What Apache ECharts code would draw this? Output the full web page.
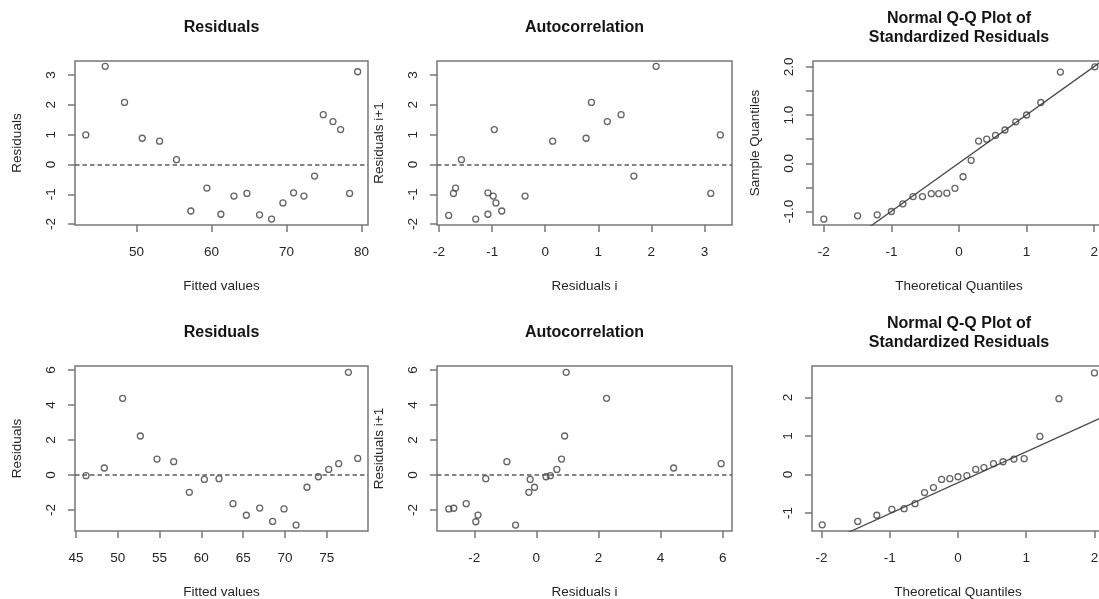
<!DOCTYPE html>
<html>
<head>
<meta charset="utf-8">
<script src="https://cdn.jsdelivr.net/npm/echarts@6/dist/echarts.min.js"></script>
<style>
html,body{margin:0;padding:0;background:#fff;}
#c{width:1099px;height:599px;}
</style>
</head>
<body>
<div id="c"></div>
<script>
// ---- Model 1 (top row) ----
const fitted1 = [43.24,45.82,48.4,50.76,53.07,55.33,57.24,59.38,61.24,62.98,64.71,66.4,68.0,69.51,70.93,72.31,73.73,74.89,76.18,77.2,78.4,79.47];
const resid1 = [0.99,3.29,2.08,0.88,0.78,0.16,-1.56,-0.79,-1.67,-1.06,-0.97,-1.69,-1.83,-1.29,-0.95,-1.06,-0.39,1.67,1.44,1.17,-0.97,3.11];
const acfX1 = [-1.82,-1.73,-1.69,-1.58,-1.31,-1.08,-1.08,-0.98,-0.96,-0.93,-0.82,-0.38,0.14,0.77,0.87,1.17,1.43,1.67,2.09,3.12,3.30];
const acfY1 = [-1.71,-0.97,-0.79,0.16,-1.83,-0.95,-1.67,-1.06,1.17,-1.29,-1.56,-1.06,0.78,0.88,2.08,1.44,1.67,-0.39,3.29,-0.97,0.99];
const qqX1 = [-2.0,-1.50,-1.21,-1.0,-0.83,-0.68,-0.54,-0.41,-0.30,-0.18,-0.06,0.06,0.18,0.29,0.41,0.54,0.68,0.84,1.0,1.21,1.50,2.01];
const qqY1 = [-1.16,-1.09,-1.07,-1.0,-0.84,-0.69,-0.69,-0.63,-0.63,-0.62,-0.52,-0.28,0.06,0.46,0.50,0.58,0.69,0.86,1.0,1.26,1.89,2.0];
const qqLine1 = [[-1.35,-1.345],[2.25,2.255]];

// ---- Model 2 (bottom row) ----
const fitted2 = [46.2,48.39,50.58,52.7,54.69,56.69,58.56,60.36,62.11,63.79,65.38,66.98,68.53,69.89,71.33,72.64,74.0,75.24,76.43,77.59,78.71];
const resid2 = [-0.04,0.40,4.38,2.23,0.91,0.76,-0.99,-0.25,-0.21,-1.64,-2.30,-1.89,-2.65,-1.94,-2.86,-0.70,-0.10,0.32,0.65,5.87,0.95];
const acfX2 = [-2.82,-2.66,-2.26,-1.95,-1.88,-1.63,-0.95,-0.67,-0.24,-0.20,-0.06,0.31,0.45,0.66,0.81,0.91,0.96,2.26,4.42,5.95];
const acfY2 = [-1.94,-1.90,-1.64,-2.67,-2.29,-0.21,0.76,-2.86,-0.99,-0.25,-0.70,-0.10,-0.04,0.32,0.91,2.23,5.87,4.38,0.40,0.65];
const qqX2 = [-1.99,-1.47,-1.19,-0.97,-0.79,-0.63,-0.49,-0.36,-0.24,-0.12,0.0,0.13,0.26,0.38,0.52,0.66,0.82,0.97,1.20,1.48,2.0];
const qqY2 = [-1.31,-1.22,-1.06,-0.91,-0.89,-0.76,-0.47,-0.34,-0.13,-0.11,-0.06,-0.03,0.13,0.18,0.28,0.33,0.40,0.41,0.99,1.97,2.64];
const qqLine2 = [[-1.7,-1.582],[2.25,1.594]];

// ---- Tick values / labels ----
const ticksX1 = [50,60,70,80];
const ticksY1 = [-2,-1,0,1,2,3];
const ticksX2 = [-2,-1,0,1,2,3];
const ticksX3 = [-2,-1,0,1,2];
const ticksY3 = [-1,-0.5,0,0.5,1,1.5,2];
const labelsY3 = [-1,0,1,2];
const ticksX4 = [45,50,55,60,65,70,75];
const ticksY4 = [-2,0,2,4,6];
const ticksX5 = [-2,0,2,4,6];
const ticksY6 = [-1,0,1,2];

const titles = ['Residuals','Autocorrelation','Normal Q-Q Plot of\nStandardized Residuals'];
const xNames = ['Fitted values','Residuals i','Theoretical Quantiles'];
const yNames = ['Residuals','Residuals i+1','Sample Quantiles'];

function zip(a,b){ return a.map((v,i)=>[v,b[i]]); }

const FONT = "'Liberation Sans', Arial, sans-serif";
const AX = '#777';
const TXT = '#262626';
const FS = 13.5;

const grids = [
  {left:75, top:61, width:293, height:164},
  {left:437, top:61, width:295, height:164},
  {left:813, top:61, width:292, height:164},
  {left:75, top:366, width:293, height:165},
  {left:437, top:366, width:295, height:165},
  {left:812, top:366, width:292, height:165}
].map(g => Object.assign(g, {show:true, borderColor:AX, borderWidth:1.5, backgroundColor:'transparent', containLabel:false, outerBoundsMode:'none'}));

function xAxis(i, min, max, ticks, name, labels, fmt){
  return {
    type:'value', gridIndex:i, min:min, max:max, scale:true, position:'bottom',
    name:name, nameLocation:'middle', nameGap:54,
    nameTextStyle:{fontFamily:FONT, fontSize:FS, color:TXT},
    axisLine:{show:false, onZero:false},
    splitLine:{show:false},
    axisTick:{show:true, inside:false, length:7, lineStyle:{color:AX, width:1.5}, customValues:ticks},
    axisLabel:{show:true, margin:20, fontFamily:FONT, fontSize:FS, color:TXT, customValues:labels||ticks,
      formatter: fmt || (v => String(v)), showMinLabel:true, showMaxLabel:true, hideOverlap:false}
  };
}
function yAxis(i, min, max, ticks, name, labels, fmt){
  return {
    type:'value', gridIndex:i, min:min, max:max, scale:true, position:'left',
    name:name, nameLocation:'middle', nameGap:51, nameRotate:90,
    nameTextStyle:{fontFamily:FONT, fontSize:FS, color:TXT},
    axisLine:{show:false, onZero:false},
    splitLine:{show:false},
    axisTick:{show:true, inside:false, length:7, lineStyle:{color:AX, width:1.5}, customValues:ticks},
    axisLabel:{show:true, rotate:90, margin:17, fontFamily:FONT, fontSize:FS, color:TXT, customValues:labels||ticks,
      formatter: fmt || (v => String(v)), showMinLabel:true, showMaxLabel:true, hideOverlap:false}
  };
}

const fmt1 = v => Number(v).toFixed(1);

const xAxes = [
  xAxis(0, 41.8, 80.85, ticksX1, xNames[0]),
  xAxis(1, -2.04, 3.52, ticksX2, xNames[1]),
  xAxis(2, -2.16, 2.16, ticksX3, xNames[2]),
  xAxis(3, 44.88, 79.94, ticksX4, xNames[0]),
  xAxis(4, -3.2, 6.3, ticksX5, xNames[1]),
  xAxis(5, -2.14, 2.14, ticksX3, xNames[2])
];
const yAxes = [
  yAxis(0, -2.03, 3.47, ticksY1, yNames[0]),
  yAxis(1, -2.03, 3.47, ticksY1, yNames[1]),
  yAxis(2, -1.28, 2.12, ticksY3, yNames[2], labelsY3, fmt1),
  yAxis(3, -3.2, 6.23, ticksY4, yNames[0]),
  yAxis(4, -3.2, 6.23, ticksY4, yNames[1]),
  yAxis(5, -1.47, 2.82, ticksY6, '')
];

const zeroLine = {
  silent:true, symbol:['none','none'], animation:false,
  label:{show:false},
  lineStyle:{type:[4.5,3], color:'#5c5c5c', width:1.6},
  data:[{yAxis:0}]
};

function scatter(i, data, withZero){
  const s = {
    type:'scatter', xAxisIndex:i, yAxisIndex:i, data:data,
    symbol:'circle', symbolSize:6,
    itemStyle:{color:'rgba(255,255,255,0)', borderColor:'#3d3d3d', borderWidth:1.3},
    animation:false, silent:true, z:3
  };
  if (withZero) s.markLine = zeroLine;
  return s;
}
function qqline(i, data){
  return {type:'line', xAxisIndex:i, yAxisIndex:i, data:data, showSymbol:false, symbol:'none',
    lineStyle:{color:'#4d4d4d', width:1.3}, clip:true, animation:false, silent:true, z:2};
}

const series = [
  scatter(0, zip(fitted1, resid1), true),
  scatter(1, zip(acfX1, acfY1), true),
  scatter(2, zip(qqX1, qqY1), false),
  qqline(2, qqLine1),
  scatter(3, zip(fitted2, resid2), true),
  scatter(4, zip(acfX2, acfY2), true),
  scatter(5, zip(qqX2, qqY2), false),
  qqline(5, qqLine2)
];

const titleStyle = {fontFamily:FONT, fontSize:16, fontWeight:'bold', color:'#141414', lineHeight:19};
const centers = [221.5, 584.5, 959];
const title = [];
[0,1].forEach(row => {
  [0,1,2].forEach(col => {
    const two = col === 2;
    title.push({
      text: titles[col], left: centers[col], textAlign:'center',
      top: (row === 0 ? (two ? 9 : 18) : (two ? 314 : 323)),
      textStyle: titleStyle, padding:0
    });
  });
});

const chart = echarts.init(document.getElementById('c'), null, {renderer:'canvas'});
chart.setOption({
  animation:false,
  backgroundColor:'#fff',
  title: title,
  grid: grids,
  xAxis: xAxes,
  yAxis: yAxes,
  series: series
});
</script>
</body>
</html>
